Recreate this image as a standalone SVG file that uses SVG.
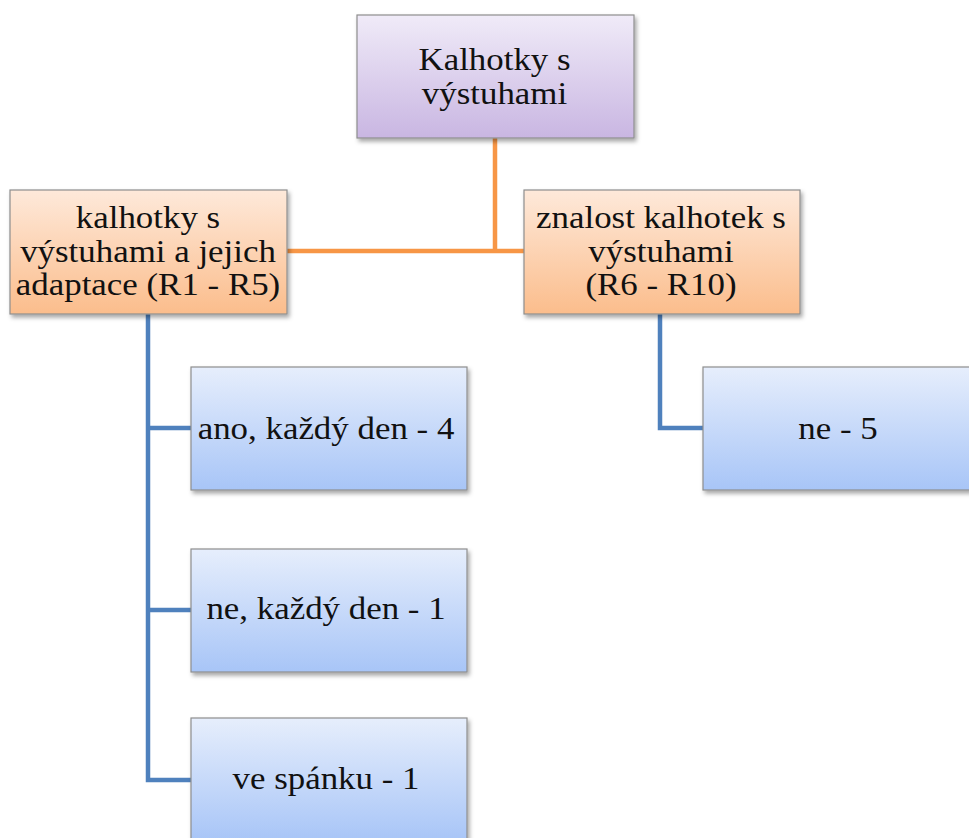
<svg xmlns="http://www.w3.org/2000/svg" width="969" height="838" viewBox="0 0 969 838">
<defs>
<linearGradient id="gP" x1="0" y1="0" x2="0" y2="1"><stop offset="0" stop-color="#f0ebf8"/><stop offset="1" stop-color="#c9b6e2"/></linearGradient>
<linearGradient id="gO" x1="0" y1="0" x2="0" y2="1"><stop offset="0" stop-color="#fee9da"/><stop offset="1" stop-color="#fbbd8c"/></linearGradient>
<linearGradient id="gB" x1="0" y1="0" x2="0" y2="1"><stop offset="0" stop-color="#e6eefc"/><stop offset="1" stop-color="#a8c5f7"/></linearGradient>
<filter id="sh" x="-10%" y="-10%" width="125%" height="130%"><feDropShadow dx="2" dy="3" stdDeviation="2" flood-color="#000" flood-opacity="0.35"/></filter>
</defs>
<style>
.box{stroke:#8e8e8e;stroke-width:1.2;filter:url(#sh)}
.t{font-family:"Liberation Serif","Times New Roman",serif;font-size:32px;fill:#111;text-anchor:middle}
.co{fill:none;stroke:#f79646;stroke-width:4.5}
.cb{fill:none;stroke:#4f81bd;stroke-width:4.5}
</style>
<rect width="969" height="838" fill="#fff"/>
<g id="connectors">
<path class="co" d="M495 138V251M287 251H524"/>
<path class="cb" d="M148 314V780H191M148 428H191M148 610H191"/>
<path class="cb" d="M660 314V428H703"/>
</g>
<g id="root"><rect class="box" x="357" y="15" width="277" height="123" fill="url(#gP)"/>
<text class="t" transform="translate(494.5 70) scale(1.09 1)">Kalhotky s</text><text class="t" transform="translate(494.5 103.5) scale(1.09 1)">výstuhami</text></g>
<g id="left"><rect class="box" x="10" y="190" width="277" height="124" fill="url(#gO)"/>
<text class="t" transform="translate(148 228) scale(1.09 1)">kalhotky s</text><text class="t" transform="translate(148 261.5) scale(1.09 1)">výstuhami a jejich</text><text class="t" transform="translate(148 295) scale(1.09 1)">adaptace (R1 - R5)</text></g>
<g id="right"><rect class="box" x="524" y="190" width="276" height="124" fill="url(#gO)"/>
<text class="t" transform="translate(661 228) scale(1.09 1)">znalost kalhotek s</text><text class="t" transform="translate(661 261.5) scale(1.09 1)">výstuhami</text><text class="t" transform="translate(661 295) scale(1.09 1)">(R6 - R10)</text></g>
<g id="b1"><rect class="box" x="191" y="367" width="276" height="123" fill="url(#gB)"/>
<text class="t" transform="translate(326 438.5) scale(1.09 1)">ano, každý den - 4</text></g>
<g id="b2"><rect class="box" x="191" y="549" width="276" height="123" fill="url(#gB)"/>
<text class="t" transform="translate(326 618.5) scale(1.09 1)">ne, každý den - 1</text></g>
<g id="b3"><rect class="box" x="191" y="718" width="276" height="123" fill="url(#gB)"/>
<text class="t" transform="translate(326 788.5) scale(1.09 1)">ve spánku - 1</text></g>
<g id="b4"><rect class="box" x="703" y="367" width="276" height="123" fill="url(#gB)"/>
<text class="t" transform="translate(838 438.5) scale(1.09 1)">ne - 5</text></g>
</svg>
